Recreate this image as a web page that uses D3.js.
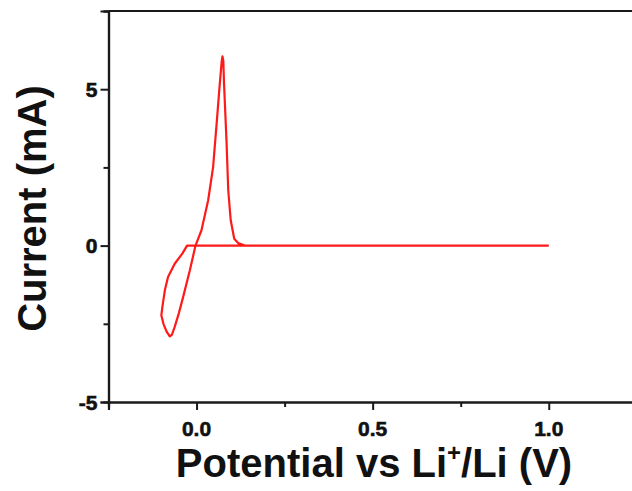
<!DOCTYPE html>
<html>
<head>
<meta charset="utf-8">
<script src="https://cdn.jsdelivr.net/npm/d3@7"></script>
<style>
  html, body { margin: 0; padding: 0; background: #fff; }
  svg { display: block; }
  text { font-family: "Liberation Sans", Arial, sans-serif; font-weight: bold; fill: #111; }
  text.xl, text.yl { stroke: #111; stroke-width: 0.6px; }
</style>
</head>
<body>
<svg id="chart" width="632" height="491"></svg>
<script>
// ---- data ----
const potential = [1.0, -0.027, -0.040, -0.062, -0.081, -0.090, -0.097, -0.100, -0.094, -0.085,
                   -0.076, -0.070, -0.062, -0.050, -0.038, -0.019, -0.003, 0.014, 0.033, 0.047,
                   0.057, 0.066, 0.0715, 0.0736, 0.0760, 0.078, 0.085, 0.090, 0.097, 0.107,
                   0.118, 0.137, 1.0];
const current = [0.0, 0.0, -0.25, -0.58, -1.00, -1.43, -1.96, -2.23, -2.50, -2.75,
                 -2.90, -2.85, -2.60, -2.15, -1.64, -0.79, 0.0, 0.49, 1.45, 2.51,
                 3.90, 5.18, 5.90, 6.05, 5.90, 5.18, 3.36, 1.77, 0.81, 0.22,
                 0.08, 0.0, 0.0];
const xMajorTicks = [0, 0.5, 1.0];
const xTickLabels = ["0.0", "0.5", "1.0"];
const xMinorTicks = [-0.25, 0.25, 0.75, 1.25];
const yMajorTicks = [-5, 0, 5];
const yTickLabels = ["-5", "0", "5"];
const yMinorTicks = [-2.5, 2.5, 7.5];
const xTitle = "Potential vs Li";
const yTitle = "Current (mA)";

// ---- layout ----
const margin = { left: 108.5, top: 11 };
const plotW = 528.3, plotH = 391;
const svg = d3.select("#chart");
const g = svg.append("g").attr("transform", `translate(${margin.left},${margin.top})`);

const x = d3.scaleLinear().domain([-0.25, 1.25]).range([0, plotW]);
const y = d3.scaleLinear().domain([-5, 7.5]).range([plotH, 0]);

const axisColor = "#1a1a1a";

// curve
const pts = potential.map((p, i) => [p, current[i]]);
g.append("path")
  .datum(pts)
  .attr("fill", "none")
  .attr("stroke", "#ff1a1a")
  .attr("stroke-width", 2.2)
  .attr("stroke-linejoin", "round")
  .attr("d", d3.line().x(d => x(d[0])).y(d => y(d[1])));

// axes (lines and ticks via d3 axes; labels drawn explicitly)
function styleAxis(sel) {
  sel.selectAll(".domain").attr("stroke", axisColor).attr("stroke-width", 2.2);
  sel.selectAll(".tick line").attr("stroke", axisColor).attr("stroke-width", 2);
}

const xAxis = g.append("g").attr("transform", `translate(0,${plotH})`)
  .call(d3.axisBottom(x).tickValues(xMajorTicks).tickSize(8).tickFormat(""));
styleAxis(xAxis);
const xMinor = g.append("g").attr("transform", `translate(0,${plotH})`)
  .call(d3.axisBottom(x).tickValues(xMinorTicks).tickSize(5).tickFormat(""));
styleAxis(xMinor);

const yAxis = g.append("g")
  .call(d3.axisLeft(y).tickValues(yMajorTicks).tickSize(8).tickFormat(""));
styleAxis(yAxis);
const yMinor = g.append("g")
  .call(d3.axisLeft(y).tickValues(yMinorTicks).tickSize(5).tickFormat(""));
styleAxis(yMinor);

g.selectAll("text.xl").data(xMajorTicks).join("text")
  .attr("class", "xl")
  .attr("x", d => x(d))
  .attr("y", plotH + 34)
  .attr("text-anchor", "middle")
  .style("font-size", "21px")
  .text((d, i) => xTickLabels[i]);

g.selectAll("text.yl").data(yMajorTicks).join("text")
  .attr("class", "yl")
  .attr("x", -11)
  .attr("y", d => y(d) + 7.5)
  .attr("text-anchor", "end")
  .style("font-size", "21px")
  .text((d, i) => yTickLabels[i]);

// top and right frame
g.append("line").attr("x1", x(-0.25)).attr("x2", x(1.25)).attr("y1", 0).attr("y2", 0)
  .attr("stroke", axisColor).attr("stroke-width", 2.2);
g.append("line").attr("x1", x(1.25)).attr("x2", x(1.25)).attr("y1", 0).attr("y2", plotH)
  .attr("stroke", axisColor).attr("stroke-width", 2.2);

// x title
const xt = svg.append("text")
  .attr("x", 374).attr("y", 477)
  .attr("text-anchor", "middle")
  .style("font-size", "40px");
xt.append("tspan").text(xTitle);
xt.append("tspan").text("+").style("font-size", "24px").attr("dy", -16);
xt.append("tspan").text("/Li (V)").attr("dy", 16);

// y title
svg.append("text")
  .attr("transform", `translate(46,${margin.top + plotH / 2 + 2}) rotate(-90)`)
  .attr("text-anchor", "middle")
  .style("font-size", "40px")
  .text(yTitle);
</script>
</body>
</html>
